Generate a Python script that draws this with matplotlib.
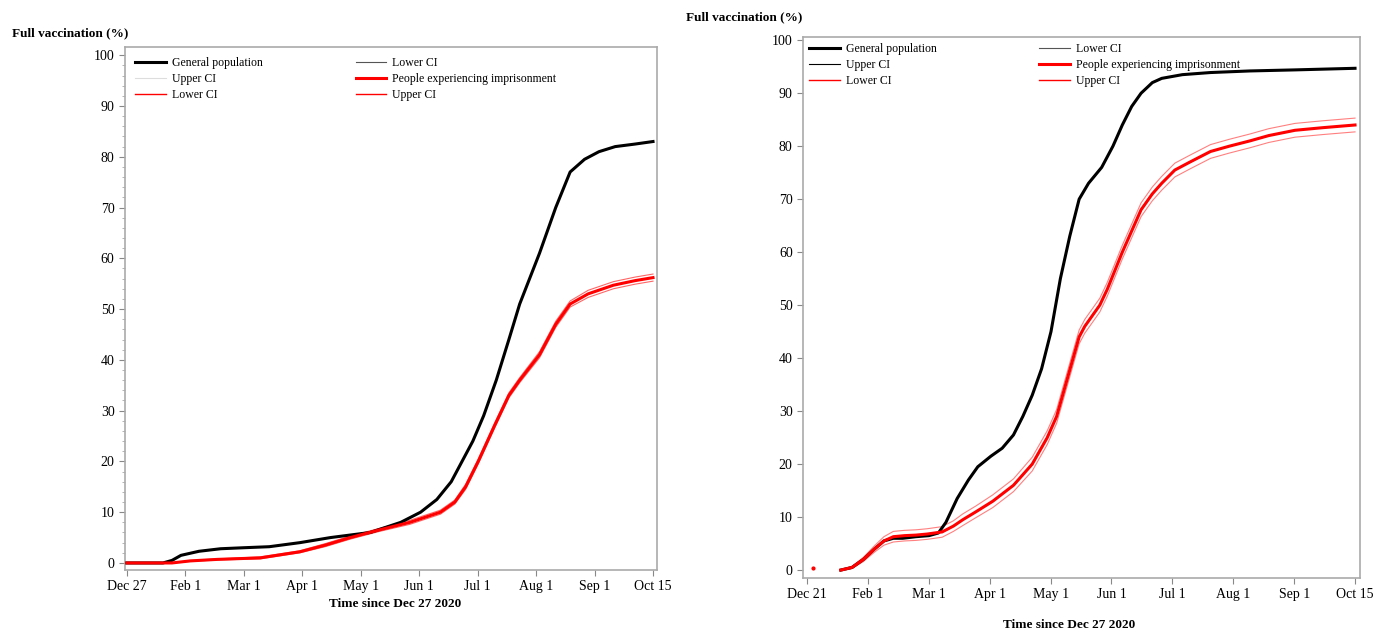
import numpy as np
import matplotlib
matplotlib.use("Agg")
import matplotlib.pyplot as plt
from matplotlib.ticker import MultipleLocator

plt.rcParams['font.family'] = ['Liberation Serif', 'DejaVu Serif']

# days since Dec 27 2020
tick_labels_l = ['Dec 27', 'Feb 1', 'Mar 1', 'Apr 1', 'May 1', 'Jun 1', 'Jul 1', 'Aug 1', 'Sep 1', 'Oct 15']
tick_labels_r = ['Dec 21', 'Feb 1', 'Mar 1', 'Apr 1', 'May 1', 'Jun 1', 'Jul 1', 'Aug 1', 'Sep 1', 'Oct 15']

# left panel
gen_days_l = [0, 20, 25, 30, 40, 52, 65, 79, 96, 113, 135, 152, 163, 172, 180, 186, 192, 198, 205, 212,
              218, 229, 238, 246, 254, 262, 271, 282, 292]
gen_vals_l = [0, 0, 0.5, 1.5, 2.3, 2.8, 3.0, 3.2, 4.0, 5.0, 6.0, 8.0, 10.0, 12.5, 16, 20, 24, 29, 36, 44,
              51, 61, 70, 77, 79.5, 81, 82, 82.5, 83]
pri_days_l = [0, 25, 35, 50, 74, 96, 110, 124, 140, 157, 174, 182, 188, 195, 204, 212, 218, 229, 238, 246,
              256, 270, 282, 292]
pri_vals_l = [0, 0, 0.4, 0.7, 1.0, 2.2, 3.5, 5.0, 6.5, 8.0, 10.0, 12.0, 15, 20, 27, 33, 36, 41, 47, 51,
              53, 54.7, 55.6, 56.2]
pri_ci_l = [0, 0, 0.1, 0.1, 0.2, 0.2, 0.3, 0.3, 0.3, 0.4, 0.4, 0.4, 0.5, 0.5, 0.5, 0.5, 0.5, 0.6, 0.6, 0.6,
            0.7, 0.7, 0.7, 0.7]

# right panel
gen_days_r = [18, 24, 30, 36, 41, 46, 51, 58, 65, 70, 74, 80, 86, 91, 98, 104, 110, 115, 120, 125,
              130, 135, 140, 145, 150, 157, 163, 168, 173, 178, 184, 189, 200, 215, 236, 260, 292]
gen_vals_r = [0, 0.5, 2, 4, 5.5, 6, 6, 6.3, 6.5, 7, 9, 13.5, 17, 19.5, 21.5, 23, 25.5, 29, 33, 38,
              45, 55, 63, 70, 73, 76, 80, 84, 87.5, 90, 92, 92.8, 93.5, 93.9, 94.2, 94.4, 94.7]
pri_days_r = [18, 24, 30, 36, 41, 46, 52, 58, 64, 72, 78, 83, 90, 99, 110, 120, 128, 133, 137, 141,
              145, 148, 152, 156, 160, 164, 168, 173, 178, 184, 189, 196, 204, 215, 225, 236, 246, 260, 275, 292]
pri_vals_r = [0, 0.5, 2, 4, 5.5, 6.3, 6.5, 6.6, 6.8, 7.2, 8.3, 9.5, 11, 13, 16, 20, 25, 29, 34, 39,
              44, 46, 48, 50, 53, 56.5, 60, 64, 68, 71, 73, 75.5, 77, 79, 80, 81, 82, 83, 83.5, 84]
pri_ci_r = [0, 0.2, 0.4, 0.6, 0.8, 1.0, 1.0, 1.0, 1.0, 1.0, 1.0, 1.1, 1.1, 1.2, 1.2, 1.3, 1.3, 1.3, 1.3, 1.3,
            1.3, 1.3, 1.3, 1.3, 1.3, 1.3, 1.3, 1.3, 1.3, 1.3, 1.3, 1.3, 1.3, 1.3, 1.3, 1.3, 1.3, 1.3, 1.3, 1.3]
stray_day_r = [3]
stray_val_r = [0.4]

fig = plt.figure(figsize=(13.73, 6.32), dpi=100)
ax1 = fig.add_axes([0.091, 0.098, 0.3875, 0.8275])
ax2 = fig.add_axes([0.5849, 0.0854, 0.4057, 0.856])


def draw_panel(ax, gd, gv, pd, pv, pci, upper_col, ci_alpha, labels, colspace, pad):
    gd = np.array(gd); gv = np.array(gv)
    pd = np.array(pd); pv = np.array(pv); pci = np.array(pci)
    # CI lines underneath, estimates on top
    h_glo, = ax.plot(gd, gv, color='#555555', lw=0.8, label='Lower CI', zorder=1)
    h_gup, = ax.plot(gd, gv, color=upper_col, lw=0.8, label='Upper CI', zorder=1)
    ax.plot(pd, pv - pci, color='red', lw=0.8, alpha=ci_alpha, zorder=1)
    ax.plot(pd, pv + pci, color='red', lw=0.8, alpha=ci_alpha, zorder=1)
    h_gen, = ax.plot(gd, gv, color='black', lw=2.2, label='General population', zorder=3)
    h_pri, = ax.plot(pd, pv, color='red', lw=2.2, label='People experiencing imprisonment', zorder=3)
    h_plo, = ax.plot([], [], color='red', lw=1, label='Lower CI')
    h_pup, = ax.plot([], [], color='red', lw=1, label='Upper CI')
    # SAS legend is row-major; matplotlib fills columns first
    handles = [h_gen, h_gup, h_plo, h_glo, h_pri, h_pup]
    ax.legend(handles=handles, labels=[h.get_label() for h in handles], ncol=2, loc='upper left',
              frameon=False, fontsize=8.5, handlelength=2.6, handletextpad=0.5, columnspacing=colspace,
              labelspacing=0.35, borderaxespad=pad)
    ax.set_xticks(np.linspace(0, 292, 10))
    ax.set_xticklabels(labels, fontsize=10)
    ax.set_yticks(range(0, 101, 10))
    ax.tick_params(axis='both', colors='#888888', labelcolor='black', labelsize=10, length=4)
    for s in ax.spines.values():
        s.set_color('#aaaaaa')
        s.set_linewidth(1.2)


draw_panel(ax1, gen_days_l, gen_vals_l, pri_days_l, pri_vals_l, pri_ci_l, '#dddddd', 0.6, tick_labels_l, 7.9, 0.45)
ax1.set_xlim(-1.1, 294.2)
ax1.set_ylim(-1.4, 101.6)
ax1.yaxis.set_minor_locator(MultipleLocator(2))
ax1.tick_params(axis='y', which='minor', length=2, colors='#aaaaaa')

draw_panel(ax2, gen_days_r, gen_vals_r, pri_days_r, pri_vals_r, pri_ci_r, 'black', 0.5, tick_labels_r, 8.7, 0.1)
ax2.plot(stray_day_r, stray_val_r, 'o', color='red', ms=2)
ax2.set_xlim(-2.1, 294.7)
ax2.set_ylim(-1.5, 100.6)

fig.text(0.009, 0.948, 'Full vaccination (%)', fontsize=9.5, fontweight='bold', va='center')
fig.text(0.4996, 0.973, 'Full vaccination (%)', fontsize=9.5, fontweight='bold', va='center')
fig.text(0.288, 0.045, 'Time since Dec 27 2020', fontsize=9.5, fontweight='bold', ha='center', va='center')
fig.text(0.779, 0.011, 'Time since Dec 27 2020', fontsize=9.5, fontweight='bold', ha='center', va='center')

fig.savefig('out.png', dpi=100)
